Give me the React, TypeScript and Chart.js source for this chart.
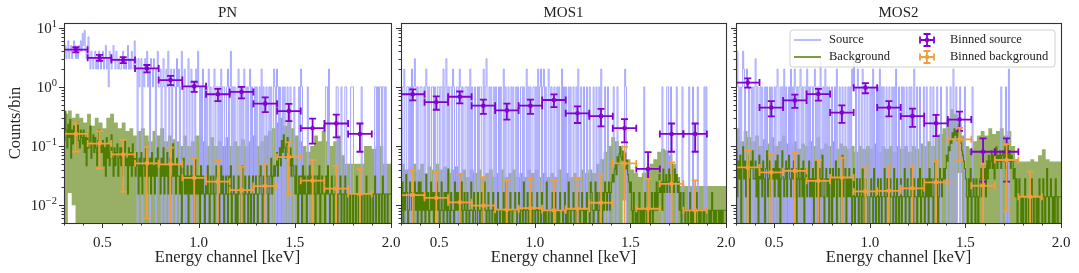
import React, { useEffect, useRef } from 'react';
import { Chart, registerables } from 'chart.js';
Chart.register(...registerables);

// ---------- axes ----------
const X_MIN = 0.3;
const X_MAX = 2.0;
const Y_MIN = 0.005;
const Y_MAX = 12;
const X_MAJOR = [0.5, 1.0, 1.5, 2.0];
const X_MAJOR_LABELS = ['0.5', '1.0', '1.5', '2.0'];
const X_MINOR = [0.3, 0.4, 0.6, 0.7, 0.8, 0.9, 1.1, 1.2, 1.3, 1.4, 1.6, 1.7, 1.8, 1.9];
const Y_DECADES = [0.01, 0.1, 1, 10];
const Y_DECADE_EXP = ['−2', '−1', '0', '1'];
const Y_MINOR_MULT = [2, 3, 4, 5, 6, 7, 8, 9];

// ---------- channel grids ----------
const CH_START = 0.30; // keV, left edge of first channel
const CH_WIDTH = 0.005; // keV per raw channel (rows below hold 0.1 keV = 20 channels)
const BAND_WIDTH = 0.02; // keV per point of the background uncertainty band

// ---------- binned grid ----------
const BIN_CENTERS = [0.3615, 0.4846, 0.6077, 0.7308, 0.8538, 0.9769, 1.1, 1.2231, 1.3462, 1.4692, 1.5923, 1.7154, 1.8385];
const BIN_HALF_WIDTH = 0.0615;

// ---------- PN ----------
const PN_SRC = [
  6, 4, 5, 3, 4, 6, 3, 4, 5, 3, 4, 6, 5, 3, 4, 3, 5, 4, 6, 4,
  8, 5, 9, 4, 3, 5, 7, 3, 2, 4, 3, 2, 3, 4, 2, 3, 2, 4, 3, 2,
  3, 4, 2, 3, 5, 2, 3, 1, 4, 3, 2, 3, 5, 3, 2, 4, 3, 2, 3, 2,
  2, 3, 4, 2, 3, 2, 3, 5, 2, 3, 2, 4, 3, 2, 6, 3, 2, 0, 3, 1,
  2, 3, 0, 2, 1, 3, 2, 4, 1, 2, 0, 3, 2, 1, 3, 2, 0, 2, 4, 1,
  1, 2, 0, 1, 3, 1, 0, 2, 1, 4, 0, 1, 2, 0, 1, 2, 1, 0, 3, 1,
  2, 0, 1, 4, 1, 0, 2, 1, 0, 1, 3, 0, 1, 2, 0, 1, 1, 0, 2, 1,
  4, 1, 0, 1, 0, 2, 1, 0, 1, 0, 1, 2, 0, 1, 0, 0, 1, 2, 0, 1,
  1, 0, 1, 0, 2, 0, 1, 1, 0, 0, 1, 2, 0, 1, 4, 0, 1, 0, 1, 0,
  0, 1, 2, 0, 1, 0, 1, 0, 2, 1, 0, 1, 0, 1, 2, 0, 1, 0, 0, 1,
  0, 1, 0, 0, 1, 0, 2, 0, 1, 0, 0, 1, 0, 0, 1, 0, 1, 0, 0, 2,
  1, 0, 2, 1, 0, 1, 0, 0, 1, 0, 1, 0, 0, 1, 0, 0, 1, 0, 0, 0,
  1, 0, 0, 0, 0, 1, 0, 2, 1, 0, 0, 0, 0, 0, 1, 0, 0, 0, 0, 0,
  0, 0, 0, 0, 0, 0, 0, 0, 0, 0, 0, 0, 0, 1, 1, 0, 2, 0, 0, 0,
  0, 0, 0, 0, 1, 1, 0, 0, 0, 1, 0, 0, 0, 1, 1, 0, 0, 0, 0, 1,
  1, 1, 0, 0, 0, 0, 0, 0, 0, 0, 1, 0, 0, 0, 0, 0, 0, 0, 0, 0,
  0, 0, 0, 0, 1, 1, 0, 1, 0, 1, 1, 0, 1, 1, 0, 1, 0, 0, 0, 0,
];
const PN_BKG_SCALE = 0.0155;
const PN_BKG_COUNTS = [
  20, 8, 25, 12, 6, 15, 9, 18, 4, 12, 7, 14, 10, 5, 11, 16, 8, 6, 12, 9,
  7, 12, 5, 9, 3, 11, 6, 8, 14, 4, 7, 10, 5, 9, 6, 3, 8, 12, 5, 7,
  5, 8, 3, 6, 2, 9, 4, 7, 3, 5, 10, 4, 2, 6, 3, 5, 7, 2, 4, 6,
  3, 6, 2, 5, 8, 3, 4, 1, 6, 3, 5, 2, 7, 3, 4, 2, 5, 3, 1, 4,
  2, 5, 1, 3, 4, 2, 6, 1, 3, 2, 4, 1, 5, 2, 3, 1, 4, 2, 6, 3,
  3, 1, 4, 2, 6, 1, 3, 2, 5, 1, 3, 4, 1, 2, 7, 2, 3, 1, 4, 2,
  2, 1, 3, 0, 2, 4, 1, 2, 1, 3, 0, 2, 1, 3, 1, 2, 0, 4, 1, 2,
  1, 2, 0, 3, 1, 2, 1, 0, 2, 1, 3, 1, 0, 2, 1, 1, 2, 0, 1, 3,
  2, 1, 0, 1, 3, 1, 2, 0, 1, 2, 1, 0, 2, 1, 3, 0, 1, 2, 1, 0,
  1, 0, 2, 1, 1, 0, 3, 1, 0, 2, 1, 1, 0, 2, 1, 0, 1, 2, 0, 1,
  2, 1, 0, 1, 2, 3, 1, 0, 2, 1, 1, 3, 2, 0, 1, 2, 4, 1, 2, 3,
  2, 3, 5, 2, 4, 6, 3, 8, 5, 10, 6, 4, 7, 9, 5, 3, 6, 2, 4, 3,
  2, 1, 3, 1, 0, 2, 1, 2, 0, 3, 1, 2, 1, 0, 2, 1, 3, 1, 2, 1,
  1, 2, 0, 1, 2, 1, 3, 0, 1, 2, 1, 1, 0, 2, 1, 3, 1, 0, 1, 2,
  1, 0, 1, 2, 1, 0, 1, 1, 2, 0, 1, 1, 0, 2, 1, 0, 1, 1, 0, 1,
  1, 0, 1, 1, 0, 2, 1, 0, 1, 1, 0, 1, 1, 0, 1, 2, 0, 1, 1, 0,
  1, 1, 0, 1, 2, 0, 1, 1, 0, 1, 1, 0, 2, 1, 0, 1, 1, 0, 1, 1,
];
const PN_BAND_HI = [
  0.5, 0.35, 0.4, 0.3, 0.35,
  0.3, 0.25, 0.35, 0.22, 0.3,
  0.25, 0.2, 0.3, 0.35, 0.25,
  0.2, 0.25, 0.18, 0.2, 0.15,
  0.18, 0.2, 0.15, 0.12, 0.18,
  0.15, 0.2, 0.12, 0.15, 0.13,
  0.12, 0.1, 0.15, 0.1, 0.12,
  0.15, 0.15, 0.12, 0.1, 0.14,
  0.1, 0.12, 0.1, 0.14, 0.1,
  0.12, 0.1, 0.13, 0.1, 0.12,
  0.15, 0.1, 0.12, 0.15, 0.18,
  0.2, 0.25, 0.3, 0.22, 0.28,
  0.2, 0.15, 0.12, 0.1, 0.08,
  0.1, 0.15, 0.12, 0.18, 0.12,
  0.1, 0.12, 0.15, 0.07, 0.05,
  0.05, 0.05, 0.05, 0.05, 0.1,
  0.1, 0.09, 0.1, 0.1, 0.05,
];
const PN_BAND_LO = [
  0.006, 0, 0.016, 0.01, 0,
  0, 0, 0, 0, 0,
  0, 0, 0, 0, 0,
  0, 0, 0, 0, 0,
  0, 0, 0, 0, 0,
  0, 0, 0, 0, 0,
  0, 0, 0, 0, 0,
  0, 0, 0, 0, 0,
  0, 0, 0, 0, 0,
  0, 0, 0, 0, 0,
  0, 0, 0, 0, 0,
  0, 0, 0, 0, 0,
  0, 0, 0, 0, 0,
  0, 0, 0, 0, 0,
  0, 0, 0, 0, 0,
  0, 0, 0, 0, 0,
  0, 0, 0, 0, 0,
];
const PN_BIN_SRC = [4.25, 3.1, 2.85, 2.05, 1.3, 1.02, 0.75, 0.82, 0.52, 0.39, 0.2, 0.24, 0.16];
const PN_BIN_SRC_ERR = [0.42, 0.36, 0.34, 0.29, 0.23, 0.2, 0.175, 0.18, 0.145, 0.126, 0.09, 0.1, 0.08];
const PN_BIN_BKG = [0.16, 0.11, 0.072, 0.051, 0.049, 0.029, 0.025, 0.018, 0.021, 0.065, 0.026, 0.019, 0.0155];
const PN_BIN_BKG_ERR = [0.08, 0.068, 0.055, 0.045, 0.045, 0.033, 0.031, 0.027, 0.029, 0.05, 0.032, 0.027, 0.025];

// ---------- MOS1 ----------
const MOS1_SRC = [
  1, 1, 0, 1, 2, 0, 0, 1, 1, 0, 1, 0, 2, 0, 1, 3, 1, 0, 1, 0,
  0, 1, 1, 0, 0, 1, 0, 2, 1, 0, 1, 0, 0, 1, 1, 0, 1, 0, 0, 1,
  1, 0, 1, 1, 0, 2, 0, 1, 3, 0, 1, 0, 1, 1, 0, 2, 1, 0, 0, 1,
  1, 0, 2, 1, 0, 1, 0, 0, 1, 1, 0, 1, 0, 2, 0, 1, 0, 0, 1, 0,
  0, 1, 0, 1, 1, 0, 0, 2, 0, 1, 3, 0, 0, 1, 0, 1, 0, 0, 1, 0,
  1, 0, 0, 1, 0, 1, 0, 0, 2, 0, 1, 0, 0, 1, 0, 0, 1, 0, 1, 0,
  0, 1, 0, 1, 0, 0, 1, 1, 0, 1, 0, 0, 2, 0, 1, 0, 1, 0, 0, 1,
  1, 0, 1, 0, 2, 0, 1, 2, 0, 1, 2, 0, 1, 0, 0, 2, 1, 0, 1, 0,
  0, 1, 0, 0, 1, 0, 1, 0, 0, 2, 0, 1, 0, 1, 0, 0, 1, 0, 1, 0,
  0, 1, 0, 0, 1, 0, 2, 0, 0, 1, 0, 0, 1, 0, 0, 1, 0, 0, 1, 0,
  0, 0, 1, 0, 0, 1, 0, 0, 1, 0, 2, 0, 0, 0, 1, 0, 0, 1, 0, 0,
  0, 0, 0, 1, 0, 0, 0, 1, 0, 0, 0, 0, 0, 0, 0, 2, 1, 0, 0, 0,
  0, 0, 0, 0, 0, 0, 0, 0, 0, 0, 0, 0, 0, 0, 0, 1, 0, 0, 0, 0,
  0, 0, 0, 0, 0, 0, 0, 0, 0, 0, 0, 0, 0, 0, 1, 0, 0, 0, 0, 1,
  1, 0, 0, 1, 0, 0, 0, 0, 0, 1, 0, 0, 0, 0, 0, 1, 0, 0, 0, 0,
  0, 0, 1, 0, 0, 0, 1, 0, 0, 0, 0, 1, 0, 0, 0, 0, 0, 0, 1, 0,
  1, 0, 0, 0, 0, 0, 0, 0, 0, 0, 0, 0, 0, 0, 0, 0, 0, 0, 0, 0,
];
const MOS1_BKG_SCALE = 0.0082;
const MOS1_BKG_COUNTS = [
  2, 1, 3, 0, 2, 1, 4, 2, 0, 1, 3, 2, 1, 0, 2, 3, 1, 2, 0, 3,
  1, 3, 0, 2, 1, 2, 0, 4, 1, 2, 0, 1, 3, 1, 2, 0, 2, 1, 3, 1,
  2, 0, 1, 3, 1, 0, 2, 1, 2, 0, 5, 1, 0, 2, 1, 1, 0, 3, 1, 2,
  1, 2, 0, 1, 3, 0, 1, 2, 1, 0, 2, 1, 0, 1, 3, 1, 0, 2, 1, 0,
  0, 2, 1, 0, 1, 2, 0, 1, 3, 1, 0, 1, 2, 0, 1, 1, 0, 2, 1, 0,
  1, 0, 2, 1, 0, 1, 1, 0, 2, 0, 1, 3, 0, 1, 0, 2, 1, 0, 1, 1,
  2, 1, 0, 1, 2, 0, 1, 1, 0, 3, 1, 0, 1, 2, 0, 1, 1, 2, 0, 1,
  1, 0, 1, 2, 0, 1, 1, 0, 2, 1, 0, 1, 0, 3, 1, 0, 1, 1, 0, 2,
  0, 1, 2, 1, 0, 1, 0, 2, 1, 1, 0, 1, 2, 0, 1, 0, 3, 1, 0, 1,
  1, 2, 0, 1, 1, 0, 2, 1, 0, 1, 2, 1, 0, 1, 0, 2, 1, 1, 0, 3,
  2, 1, 0, 1, 3, 1, 2, 0, 1, 2, 1, 0, 2, 1, 3, 2, 1, 2, 3, 1,
  2, 3, 4, 3, 5, 6, 4, 8, 6, 9, 12, 8, 7, 10, 6, 9, 5, 7, 4, 3,
  2, 3, 1, 0, 2, 1, 0, 1, 0, 1, 2, 0, 1, 0, 1, 0, 2, 1, 0, 1,
  1, 0, 1, 2, 0, 1, 2, 1, 3, 1, 2, 4, 2, 3, 1, 5, 2, 3, 4, 2,
  3, 5, 2, 4, 6, 3, 2, 5, 3, 4, 2, 3, 1, 2, 0, 1, 2, 1, 0, 1,
  1, 0, 1, 2, 0, 1, 0, 1, 1, 0, 2, 1, 0, 1, 0, 1, 1, 0, 1, 0,
  0, 1, 1, 0, 1, 0, 2, 1, 0, 1, 0, 1, 1, 0, 1, 0, 1, 0, 1, 1,
];
const MOS1_BAND_HI = [
  0.035, 0.05, 0.04, 0.045, 0.05,
  0.04, 0.05, 0.035, 0.045, 0.04,
  0.05, 0.04, 0.045, 0.035, 0.04,
  0.045, 0.035, 0.04, 0.03, 0.04,
  0.035, 0.04, 0.03, 0.035, 0.04,
  0.03, 0.035, 0.04, 0.03, 0.035,
  0.04, 0.03, 0.035, 0.03, 0.04,
  0.035, 0.04, 0.03, 0.035, 0.03,
  0.035, 0.03, 0.04, 0.03, 0.035,
  0.03, 0.035, 0.03, 0.04, 0.035,
  0.04, 0.035, 0.05, 0.06, 0.08,
  0.1, 0.14, 0.12, 0.1, 0.08,
  0.06, 0.04, 0.035, 0.03, 0.035,
  0.04, 0.05, 0.06, 0.08, 0.09,
  0.085, 0.07, 0.05, 0.03, 0.021,
  0.021, 0.021, 0.021, 0.021, 0.021,
  0.021, 0.021, 0.021, 0.021, 0.021,
];
const MOS1_BAND_LO = [
  0, 0, 0, 0, 0,
  0, 0, 0, 0, 0,
  0, 0, 0, 0, 0,
  0, 0, 0, 0, 0,
  0, 0, 0, 0, 0,
  0, 0, 0, 0, 0,
  0, 0, 0, 0, 0,
  0, 0, 0, 0, 0,
  0, 0, 0, 0, 0,
  0, 0, 0, 0, 0,
  0, 0, 0, 0, 0,
  0, 0, 0, 0, 0.012,
  0, 0, 0, 0, 0,
  0, 0, 0, 0, 0,
  0, 0, 0, 0, 0,
  0, 0, 0, 0, 0,
  0, 0, 0, 0, 0,
];
const MOS1_BIN_SRC = [0.75, 0.55, 0.68, 0.48, 0.4, 0.48, 0.6, 0.357, 0.32, 0.2, 0.041, 0.16, 0.16];
const MOS1_BIN_SRC_ERR = [0.16, 0.14, 0.155, 0.13, 0.12, 0.13, 0.145, 0.112, 0.106, 0.085, 0.038, 0.08, 0.08];
const MOS1_BIN_BKG = [0.0148, 0.0133, 0.0112, 0.0098, 0.0084, 0.0089, 0.0082, 0.0087, 0.011, 0.0507, 0.0087, 0.023, 0.0082];
const MOS1_BIN_BKG_ERR = [0.024, 0.023, 0.021, 0.02, 0.018, 0.019, 0.018, 0.019, 0.021, 0.047, 0.019, 0.03, 0.018];

// ---------- MOS2 ----------
const MOS2_SRC = [
  2, 1, 4, 1, 0, 1, 0, 1, 4, 2, 0, 1, 2, 1, 0, 1, 1, 0, 1, 0,
  1, 3, 0, 1, 0, 0, 1, 0, 1, 0, 0, 1, 0, 1, 0, 0, 1, 0, 1, 0,
  0, 1, 0, 1, 2, 0, 0, 1, 0, 1, 0, 2, 0, 1, 0, 0, 1, 0, 2, 0,
  1, 0, 2, 1, 0, 1, 0, 1, 2, 0, 1, 0, 1, 1, 0, 2, 0, 1, 0, 1,
  1, 0, 1, 2, 0, 1, 0, 1, 0, 3, 1, 0, 1, 0, 2, 0, 1, 0, 1, 0,
  0, 1, 0, 0, 1, 0, 2, 0, 0, 1, 0, 0, 1, 0, 0, 1, 0, 0, 1, 0,
  1, 0, 2, 1, 3, 1, 0, 1, 2, 0, 1, 1, 0, 2, 1, 0, 1, 1, 0, 1,
  1, 0, 1, 0, 2, 0, 1, 1, 0, 1, 0, 2, 0, 1, 0, 1, 0, 0, 1, 0,
  0, 1, 0, 0, 1, 0, 1, 0, 2, 0, 0, 1, 0, 0, 1, 0, 1, 0, 0, 1,
  0, 0, 1, 0, 1, 0, 0, 2, 0, 0, 1, 0, 0, 1, 0, 0, 0, 1, 0, 0,
  1, 0, 0, 0, 1, 0, 0, 1, 0, 0, 0, 1, 0, 0, 0, 1, 0, 0, 0, 0,
  0, 1, 0, 0, 0, 1, 0, 0, 2, 0, 0, 1, 0, 0, 0, 1, 0, 0, 0, 0,
  1, 0, 0, 0, 0, 0, 0, 0, 1, 0, 0, 0, 0, 0, 0, 0, 0, 0, 0, 0,
  0, 0, 0, 0, 0, 0, 0, 0, 0, 0, 0, 0, 0, 0, 0, 0, 0, 0, 1, 0,
  0, 0, 0, 1, 0, 0, 2, 0, 0, 0, 0, 0, 0, 0, 0, 0, 0, 0, 0, 0,
  0, 0, 0, 0, 0, 0, 0, 0, 0, 0, 0, 0, 0, 0, 0, 0, 0, 0, 0, 0,
  0, 0, 0, 0, 0, 0, 0, 0, 0, 0, 0, 0, 0, 0, 0, 0, 0, 0, 0, 0,
];
const MOS2_BKG_SCALE = 0.0139;
const MOS2_BKG_COUNTS = [
  3, 6, 1, 4, 2, 5, 0, 3, 7, 2, 4, 1, 3, 5, 2, 0, 4, 3, 6, 2,
  2, 4, 1, 3, 0, 5, 2, 3, 1, 4, 2, 0, 3, 6, 1, 2, 4, 1, 3, 2,
  3, 1, 4, 2, 5, 1, 3, 0, 2, 6, 3, 1, 2, 4, 1, 3, 5, 2, 1, 3,
  2, 4, 1, 3, 0, 2, 5, 1, 2, 3, 1, 4, 0, 2, 3, 1, 2, 4, 1, 2,
  1, 3, 0, 2, 4, 1, 2, 0, 3, 1, 2, 5, 1, 0, 2, 3, 1, 2, 0, 3,
  2, 0, 3, 1, 2, 4, 0, 2, 3, 1, 2, 0, 5, 1, 2, 3, 0, 2, 1, 3,
  1, 2, 0, 1, 3, 0, 1, 2, 1, 0, 2, 1, 0, 3, 1, 0, 2, 1, 1, 0,
  0, 1, 2, 1, 0, 3, 1, 0, 1, 2, 0, 1, 2, 0, 1, 1, 3, 0, 1, 2,
  1, 0, 2, 1, 1, 0, 3, 1, 0, 2, 1, 0, 1, 2, 0, 1, 1, 3, 0, 1,
  2, 1, 0, 1, 3, 1, 0, 2, 1, 1, 0, 2, 1, 3, 0, 1, 2, 1, 0, 2,
  1, 2, 0, 3, 1, 2, 1, 0, 2, 4, 1, 2, 0, 1, 3, 2, 1, 2, 3, 2,
  3, 5, 4, 7, 6, 9, 8, 12, 10, 14, 11, 13, 9, 15, 12, 10, 8, 6, 5, 4,
  3, 2, 1, 0, 2, 1, 3, 0, 1, 2, 1, 0, 2, 1, 0, 1, 2, 3, 1, 2,
  2, 3, 1, 4, 2, 5, 3, 4, 6, 3, 5, 2, 4, 7, 3, 5, 4, 6, 3, 5,
  6, 4, 7, 3, 5, 8, 4, 6, 3, 5, 4, 2, 3, 1, 2, 0, 1, 2, 1, 0,
  1, 0, 1, 2, 0, 1, 1, 0, 1, 0, 2, 1, 0, 1, 1, 0, 1, 0, 2, 1,
  1, 0, 2, 1, 0, 1, 3, 1, 0, 1, 2, 1, 0, 1, 0, 2, 1, 0, 1, 1,
];
const MOS2_BAND_HI = [
  0.15, 0.2, 0.12, 0.18, 0.14,
  0.12, 0.15, 0.1, 0.13, 0.11,
  0.14, 0.1, 0.12, 0.15, 0.11,
  0.1, 0.12, 0.09, 0.11, 0.1,
  0.12, 0.1, 0.14, 0.09, 0.11,
  0.1, 0.12, 0.09, 0.11, 0.1,
  0.09, 0.1, 0.08, 0.1, 0.09,
  0.1, 0.09, 0.11, 0.08, 0.1,
  0.09, 0.1, 0.08, 0.1, 0.09,
  0.1, 0.08, 0.1, 0.09, 0.11,
  0.1, 0.12, 0.1, 0.14, 0.16,
  0.2, 0.3, 0.42, 0.35, 0.25,
  0.15, 0.1, 0.09, 0.12, 0.15,
  0.18, 0.15, 0.2, 0.16, 0.18,
  0.2, 0.15, 0.18, 0.1, 0.06,
  0.055, 0.055, 0.055, 0.06, 0.055,
  0.07, 0.088, 0.06, 0.055, 0.055,
];
const MOS2_BAND_LO = [
  0, 0, 0, 0, 0,
  0, 0, 0, 0, 0,
  0, 0, 0, 0, 0,
  0, 0, 0, 0, 0,
  0, 0, 0, 0, 0,
  0, 0, 0, 0, 0,
  0, 0, 0, 0, 0,
  0, 0, 0, 0, 0,
  0, 0, 0, 0, 0,
  0, 0, 0, 0, 0,
  0, 0, 0, 0, 0,
  0, 0, 0, 0, 0.035,
  0, 0, 0, 0, 0,
  0, 0, 0, 0, 0,
  0, 0, 0, 0, 0,
  0, 0, 0, 0, 0,
  0, 0, 0, 0, 0,
];
const MOS2_BIN_SRC = [1.18, 0.446, 0.59, 0.756, 0.367, 0.97, 0.446, 0.32, 0.242, 0.28, 0.08, 0.08];
const MOS2_BIN_SRC_ERR = [0.21, 0.13, 0.15, 0.17, 0.12, 0.19, 0.13, 0.11, 0.095, 0.1, 0.055, 0.055];
const MOS2_BIN_BKG = [0.0434, 0.0358, 0.038, 0.0258, 0.0294, 0.0171, 0.0175, 0.0193, 0.0243, 0.13, 0.0213, 0.058, 0.0139];
const MOS2_BIN_BKG_ERR = [0.041, 0.038, 0.039, 0.032, 0.034, 0.026, 0.026, 0.027, 0.031, 0.072, 0.029, 0.05, 0.023];

// ---------- styles ----------
const SERIF = '"Liberation Serif", "DejaVu Serif", serif';
const SRC_COLOR = '#a6a6ff';
const BKG_LINE_COLOR = '#4f7d00';
const BKG_FILL_COLOR = 'rgba(107,142,35,0.7)';
const BIN_SRC_COLOR = '#8200d0';
const BIN_BKG_COLOR = '#f29e3d';
const FRAME_COLOR = '#333333';

type PanelDef = {
  title: string;
  src: number[];
  bkgCounts: number[];
  bkgScale: number;
  bandHi: number[];
  bandLo: number[];
  binSrc: number[];
  binSrcErr: number[];
  binBkg: number[];
  binBkgErr: number[];
  left: number;
  width: number;
  padLeft: number;
  padRight: number;
  yLabels: boolean;
  legend: boolean;
};

const PANELS: PanelDef[] = [
  { title: 'PN', src: PN_SRC, bkgCounts: PN_BKG_COUNTS, bkgScale: PN_BKG_SCALE, bandHi: PN_BAND_HI, bandLo: PN_BAND_LO, binSrc: PN_BIN_SRC, binSrcErr: PN_BIN_SRC_ERR, binBkg: PN_BIN_BKG, binBkgErr: PN_BIN_BKG_ERR, left: 0, width: 400, padLeft: 64, padRight: 9, yLabels: true, legend: false },
  { title: 'MOS1', src: MOS1_SRC, bkgCounts: MOS1_BKG_COUNTS, bkgScale: MOS1_BKG_SCALE, bandHi: MOS1_BAND_HI, bandLo: MOS1_BAND_LO, binSrc: MOS1_BIN_SRC, binSrcErr: MOS1_BIN_SRC_ERR, binBkg: MOS1_BIN_BKG, binBkgErr: MOS1_BIN_BKG_ERR, left: 395, width: 340, padLeft: 6, padRight: 9, yLabels: false, legend: false },
  { title: 'MOS2', src: MOS2_SRC, bkgCounts: MOS2_BKG_COUNTS, bkgScale: MOS2_BKG_SCALE, bandHi: MOS2_BAND_HI, bandLo: MOS2_BAND_LO, binSrc: MOS2_BIN_SRC, binSrcErr: MOS2_BIN_SRC_ERR, binBkg: MOS2_BIN_BKG, binBkgErr: MOS2_BIN_BKG_ERR, left: 730, width: 349, padLeft: 6, padRight: 18, yLabels: false, legend: true },
];

const FLOOR = 1e-4; // zero counts are drawn below the axis (log scale)

function stepPoints(vals: number[], start: number, width: number, scale = 1) {
  const pts = vals.map((v, i) => ({ x: start + i * width, y: v > 0 ? v * scale : FLOOR }));
  const last = vals[vals.length - 1];
  pts.push({ x: start + vals.length * width, y: last > 0 ? last * scale : FLOOR });
  return pts;
}

function drawErrorBar(ctx: CanvasRenderingContext2D, cx: number, cy: number, x0: number, x1: number, yTop: number, yBot: number, showBotCap: boolean) {
  const cap = 3.5;
  ctx.beginPath();
  ctx.moveTo(x0, cy); ctx.lineTo(x1, cy);
  ctx.moveTo(cx, yTop); ctx.lineTo(cx, yBot);
  ctx.moveTo(x0, cy - cap); ctx.lineTo(x0, cy + cap);
  ctx.moveTo(x1, cy - cap); ctx.lineTo(x1, cy + cap);
  ctx.moveTo(cx - cap, yTop); ctx.lineTo(cx + cap, yTop);
  if (showBotCap) { ctx.moveTo(cx - cap, yBot); ctx.lineTo(cx + cap, yBot); }
  ctx.stroke();
  ctx.beginPath();
  ctx.arc(cx, cy, 2.3, 0, Math.PI * 2);
  ctx.fill();
}

const errorBarPlugin = {
  id: 'errorBars',
  afterDatasetDraw(chart: any, args: any) {
    const ds = chart.data.datasets[args.index];
    if (!ds.errY) return;
    const { ctx, chartArea: a } = chart;
    const xs = chart.scales.x;
    const ys = chart.scales.y;
    ctx.save();
    ctx.beginPath();
    ctx.rect(a.left, a.top, a.right - a.left, a.bottom - a.top);
    ctx.clip();
    ctx.strokeStyle = ds.borderColor;
    ctx.fillStyle = ds.borderColor;
    ctx.lineWidth = 1.8;
    ds.data.forEach((p: any, i: number) => {
      const e = ds.errY[i];
      const cx = xs.getPixelForValue(p.x);
      const cy = ys.getPixelForValue(p.y);
      const x0 = xs.getPixelForValue(p.x - ds.errX);
      const x1 = xs.getPixelForValue(p.x + ds.errX);
      const yTop = ys.getPixelForValue(p.y + e);
      const lo = p.y - e;
      const yBot = lo > 0 ? ys.getPixelForValue(lo) : a.bottom + 20;
      drawErrorBar(ctx, cx, cy, x0, x1, yTop, yBot, lo > 0);
    });
    ctx.restore();
  },
};

function drawLegend(ctx: CanvasRenderingContext2D, a: any) {
  const W = 265, H = 37;
  const L = a.right - 6 - W;
  const T = a.top + 7;
  ctx.save();
  ctx.beginPath();
  const r = 3;
  ctx.moveTo(L + r, T);
  ctx.lineTo(L + W - r, T); ctx.quadraticCurveTo(L + W, T, L + W, T + r);
  ctx.lineTo(L + W, T + H - r); ctx.quadraticCurveTo(L + W, T + H, L + W - r, T + H);
  ctx.lineTo(L + r, T + H); ctx.quadraticCurveTo(L, T + H, L, T + H - r);
  ctx.lineTo(L, T + r); ctx.quadraticCurveTo(L, T, L + r, T);
  ctx.closePath();
  ctx.fillStyle = 'rgba(255,255,255,0.85)';
  ctx.fill();
  ctx.strokeStyle = '#d0d0d0';
  ctx.lineWidth = 1;
  ctx.stroke();

  const row1 = T + 10, row2 = T + 27;
  ctx.lineWidth = 1.5;
  ctx.strokeStyle = SRC_COLOR;
  ctx.beginPath(); ctx.moveTo(L + 4, row1); ctx.lineTo(L + 31, row1); ctx.stroke();
  ctx.strokeStyle = BKG_LINE_COLOR;
  ctx.beginPath(); ctx.moveTo(L + 4, row2); ctx.lineTo(L + 31, row2); ctx.stroke();

  ctx.lineWidth = 1.8;
  const cx = L + 137;
  ctx.strokeStyle = BIN_SRC_COLOR; ctx.fillStyle = BIN_SRC_COLOR;
  drawErrorBar(ctx, cx, row1, cx - 7, cx + 7, row1 - 6, row1 + 6, true);
  ctx.strokeStyle = BIN_BKG_COLOR; ctx.fillStyle = BIN_BKG_COLOR;
  drawErrorBar(ctx, cx, row2, cx - 7, cx + 7, row2 - 6, row2 + 6, true);

  ctx.fillStyle = '#222';
  ctx.font = `12.5px ${SERIF}`;
  ctx.textBaseline = 'middle';
  ctx.textAlign = 'left';
  ctx.fillText('Source', L + 39, row1);
  ctx.fillText('Background', L + 39, row2);
  ctx.fillText('Binned source', L + 160, row1);
  ctx.fillText('Binned background', L + 160, row2);
  ctx.restore();
}

function makeFramePlugin(p: PanelDef) {
  return {
    id: 'frame',
    afterDraw(chart: any) {
      const { ctx, chartArea: a } = chart;
      const xs = chart.scales.x;
      const ys = chart.scales.y;
      ctx.save();
      ctx.strokeStyle = FRAME_COLOR;
      ctx.fillStyle = '#222';
      ctx.lineWidth = 1;
      ctx.beginPath();
      X_MAJOR.forEach((v) => { const px = Math.round(xs.getPixelForValue(v)) + 0.5; ctx.moveTo(px, a.bottom); ctx.lineTo(px, a.bottom + 5); });
      X_MINOR.forEach((v) => { const px = Math.round(xs.getPixelForValue(v)) + 0.5; ctx.moveTo(px, a.bottom); ctx.lineTo(px, a.bottom + 2.5); });
      Y_DECADES.forEach((d) => {
        const py = Math.round(ys.getPixelForValue(d)) + 0.5;
        ctx.moveTo(a.left, py); ctx.lineTo(a.left - 5, py);
      });
      [0.001, 0.01, 0.1, 1].forEach((d) => {
        Y_MINOR_MULT.forEach((m) => {
          const v = d * m;
          if (v < Y_MIN || v > Y_MAX) return;
          const py = Math.round(ys.getPixelForValue(v)) + 0.5;
          ctx.moveTo(a.left, py); ctx.lineTo(a.left - 2.5, py);
        });
      });
      ctx.stroke();
      ctx.lineWidth = 1.1;
      ctx.strokeRect(Math.round(a.left) + 0.5, Math.round(a.top) + 0.5, Math.round(a.right - a.left), Math.round(a.bottom - a.top));
      ctx.font = `15px ${SERIF}`;
      ctx.textAlign = 'center';
      ctx.textBaseline = 'middle';
      X_MAJOR.forEach((v, i) => ctx.fillText(X_MAJOR_LABELS[i], xs.getPixelForValue(v), a.bottom + 20));
      ctx.font = `16.5px ${SERIF}`;
      ctx.fillText('Energy channel [keV]', (a.left + a.right) / 2, a.bottom + 35);
      ctx.font = `15px ${SERIF}`;
      ctx.fillText(p.title, (a.left + a.right) / 2, a.top - 10);
      if (p.yLabels) {
        Y_DECADES.forEach((d, i) => {
          const py = ys.getPixelForValue(d);
          const R = a.left - 7;
          ctx.font = `10.5px ${SERIF}`;
          const expW = ctx.measureText(Y_DECADE_EXP[i]).width;
          ctx.textAlign = 'left';
          ctx.textBaseline = 'alphabetic';
          ctx.fillText(Y_DECADE_EXP[i], R - expW, py - 1);
          ctx.font = `15px ${SERIF}`;
          const baseW = ctx.measureText('10').width;
          ctx.fillText('10', R - expW - baseW, py + 5);
        });
        ctx.save();
        ctx.translate(16, (a.top + a.bottom) / 2);
        ctx.rotate(-Math.PI / 2);
        ctx.font = `16.5px ${SERIF}`;
        ctx.textAlign = 'center';
        ctx.textBaseline = 'middle';
        ctx.fillText('Counts/bin', 0, 0);
        ctx.restore();
      }
      if (p.legend) drawLegend(ctx, a);
      ctx.restore();
    },
  };
}

function PanelChart({ p }: { p: PanelDef }) {
  const ref = useRef<HTMLCanvasElement>(null);
  useEffect(() => {
    const canvas = ref.current;
    if (!canvas) return;
    const binSrcPts = p.binSrc.map((v, i) => ({ x: BIN_CENTERS[i], y: v }));
    const binBkgPts = p.binBkg.map((v, i) => ({ x: BIN_CENTERS[i], y: v }));
    const chart = new Chart(canvas, {
      type: 'line',
      data: {
        datasets: [
          { label: 'band low', data: stepPoints(p.bandLo, CH_START, BAND_WIDTH), stepped: 'after', borderWidth: 0, pointRadius: 0, fill: false, order: 6, clip: 0 } as any,
          { label: 'band high', data: stepPoints(p.bandHi, CH_START, BAND_WIDTH), stepped: 'after', borderWidth: 0, pointRadius: 0, fill: '-1', backgroundColor: BKG_FILL_COLOR, borderColor: 'rgba(0,0,0,0)', order: 5, clip: 0 } as any,
          { label: 'Source', data: stepPoints(p.src, CH_START, CH_WIDTH), stepped: 'after', borderColor: SRC_COLOR, borderWidth: 1, pointRadius: 0, fill: false, order: 4, clip: 0 } as any,
          { label: 'Background', data: stepPoints(p.bkgCounts, CH_START, CH_WIDTH, p.bkgScale), stepped: 'after', borderColor: BKG_LINE_COLOR, borderWidth: 1.1, pointRadius: 0, fill: false, order: 3, clip: 0 } as any,
          { label: 'Binned source', data: binSrcPts, showLine: false, pointRadius: 0, borderColor: BIN_SRC_COLOR, backgroundColor: BIN_SRC_COLOR, errY: p.binSrcErr, errX: BIN_HALF_WIDTH, order: 2 } as any,
          { label: 'Binned background', data: binBkgPts, showLine: false, pointRadius: 0, borderColor: BIN_BKG_COLOR, backgroundColor: BIN_BKG_COLOR, errY: p.binBkgErr, errX: BIN_HALF_WIDTH, order: 1 } as any,
        ],
      },
      options: {
        responsive: false,
        animation: false,
        devicePixelRatio: 1,
        layout: { padding: { left: p.padLeft, right: p.padRight, top: 23, bottom: 50 } },
        plugins: { legend: { display: false }, tooltip: { enabled: false }, title: { display: false } },
        events: [],
        scales: {
          x: { type: 'linear', min: X_MIN, max: X_MAX, display: false },
          y: { type: 'logarithmic', min: Y_MIN, max: Y_MAX, display: false },
        },
      },
      plugins: [errorBarPlugin, makeFramePlugin(p)],
    } as any);
    return () => chart.destroy();
  }, [p]);
  return (
    <canvas
      ref={ref}
      width={p.width}
      height={273}
      style={{ position: 'absolute', left: p.left, top: 0, width: p.width, height: 273 }}
    />
  );
}

export default function App() {
  return (
    <div style={{ position: 'fixed', left: 0, top: 0, width: 1079, height: 273, background: '#fff', overflow: 'hidden' }}>
      {PANELS.map((p) => (
        <PanelChart key={p.title} p={p} />
      ))}
    </div>
  );
}
